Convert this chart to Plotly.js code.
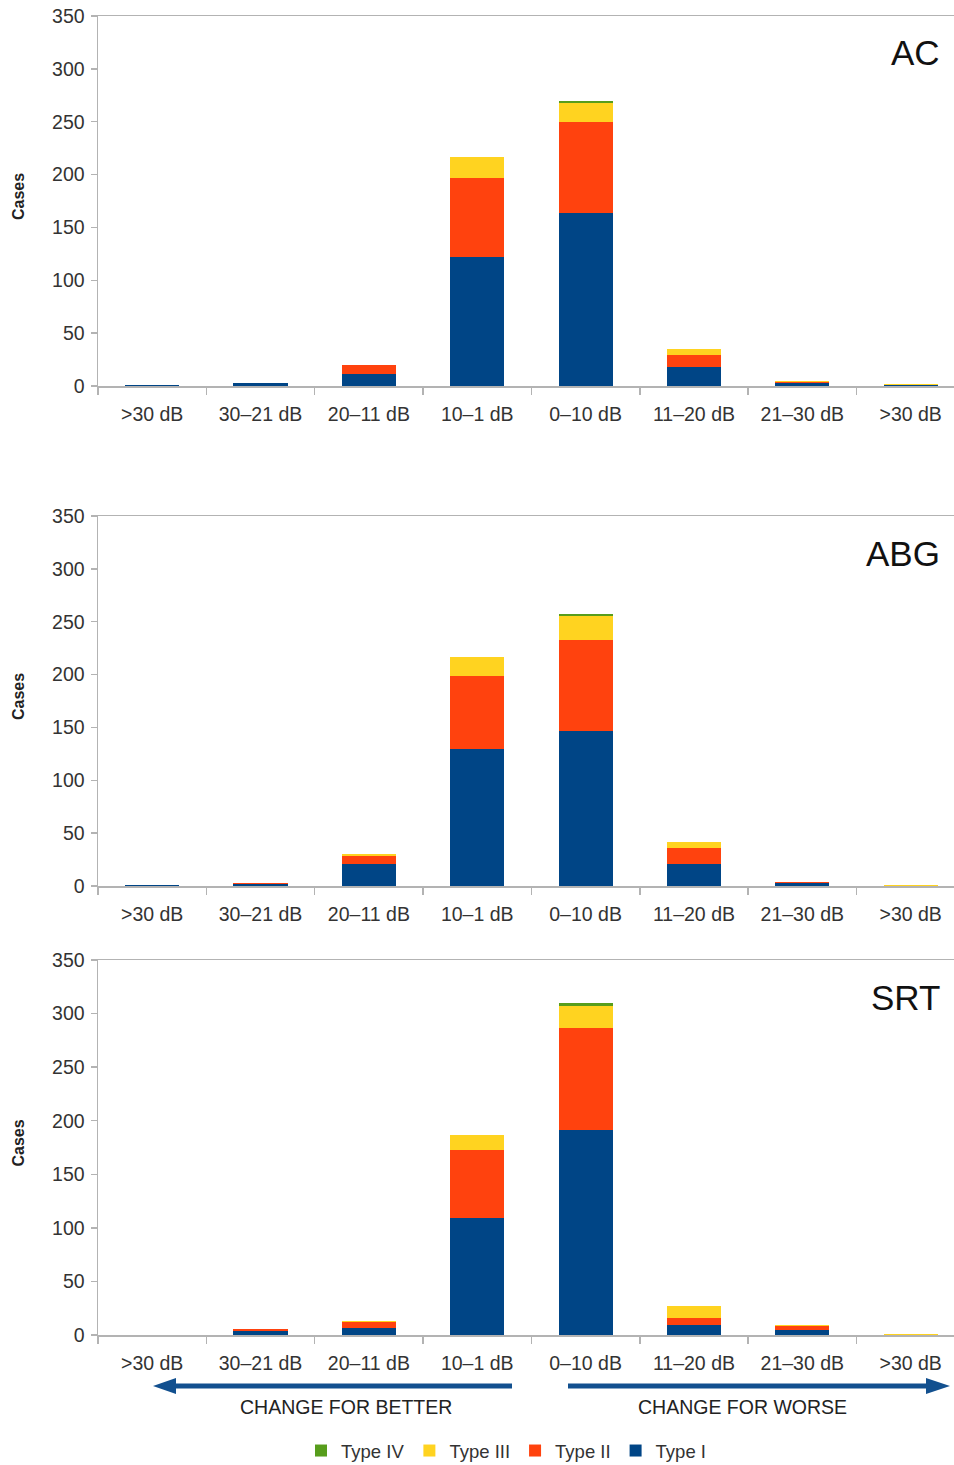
<!DOCTYPE html>
<html>
<head>
<meta charset="utf-8">
<script src="https://cdn.plot.ly/plotly-3.0.1.min.js"></script>
<style>html,body{margin:0;padding:0;background:#fff}#chart{width:954px;height:1465px}</style>
</head>
<body>
<div id="chart"></div>
<script>
// ---- data ----
const categories = ['>30 dB', '30–21 dB', '20–11 dB', '10–1 dB', '0–10 dB', '11–20 dB', '21–30 dB', '>30 dB'];
const seriesNames = ['Type I', 'Type II', 'Type III', 'Type IV'];
const panelNames = ['AC', 'ABG', 'SRT'];

const acTypeI   = [1, 3, 11, 122, 164, 18, 3, 1];
const acTypeII  = [0, 0, 9, 75, 86, 11, 1, 0];
const acTypeIII = [0, 0, 0, 20, 18, 6, 1, 1];
const acTypeIV  = [0, 0, 0, 0, 2, 0, 0, 0];

const abgTypeI   = [1, 2, 21, 130, 147, 21, 3, 0];
const abgTypeII  = [0, 1, 7, 69, 86, 15, 1, 0];
const abgTypeIII = [0, 0, 2, 18, 22, 6, 0, 1];
const abgTypeIV  = [0, 0, 0, 0, 2, 0, 0, 0];

const srtTypeI   = [0, 4, 7, 109, 191, 9, 5, 0];
const srtTypeII  = [0, 2, 5, 64, 96, 7, 3, 0];
const srtTypeIII = [0, 0, 1, 14, 20, 11, 1, 1];
const srtTypeIV  = [0, 0, 0, 0, 3, 0, 0, 0];

const yTickVals = [0, 50, 100, 150, 200, 250, 300, 350];

// ---- styling ----
const colors = ['#004586', '#ff420e', '#ffd320', '#579d1c'];
const W = 954, H = 1465, L = 98, R = 0;
const px2x = p => (p - L) / (W - L - R);
const py2y = p => (H - p) / H;
const FONT = 'Liberation Sans, Arial, sans-serif';
const axisGrey = '#b3b3b3';
const textGrey = '#333333';

const panelData = [
  [acTypeI, acTypeII, acTypeIII, acTypeIV],
  [abgTypeI, abgTypeII, abgTypeIII, abgTypeIV],
  [srtTypeI, srtTypeII, srtTypeIII, srtTypeIV]
];
// pixel extents of each plot area (top, bottom)
const panelPx = [[16, 386], [516, 886], [960, 1335]];

const xIdx = categories.map((c, i) => i);
const traces = [];
panelData.forEach((series, p) => {
  series.forEach((vals, s) => {
    traces.push({
      type: 'bar',
      name: seriesNames[s],
      x: xIdx,
      y: vals,
      xaxis: p === 0 ? 'x' : 'x' + (p + 1),
      yaxis: p === 0 ? 'y' : 'y' + (p + 1),
      marker: {color: colors[s], line: {width: 0}},
      legendgroup: seriesNames[s],
      showlegend: p === 0,
      hoverinfo: 'y+name'
    });
  });
});

const layout = {
  width: W, height: H,
  margin: {l: L, r: R, t: 0, b: 0, autoexpand: false},
  paper_bgcolor: '#fff', plot_bgcolor: '#fff',
  barmode: 'stack',
  bargap: 0.5,
  font: {family: FONT, size: 19, color: textGrey},
  showlegend: true,
  legend: {
    orientation: 'h', traceorder: 'reversed',
    x: px2x(506), xanchor: 'center', y: py2y(1451), yanchor: 'middle',
    font: {family: FONT, size: 18.5, color: textGrey},
    itemwidth: 30, itemsizing: 'constant'
  },
  annotations: [],
  shapes: []
};

panelPx.forEach((pp, p) => {
  const sfx = p === 0 ? '' : String(p + 1);
  layout['xaxis' + sfx] = {
    domain: [0, 1],
    anchor: 'y' + sfx,
    range: [-0.5, 7.4],
    tickmode: 'array', tickvals: xIdx, ticktext: categories,
    ticks: '', showgrid: false, zeroline: false,
    showline: true, mirror: true, linecolor: axisGrey, linewidth: 1.5,
    tickfont: {family: FONT, size: 19.5, color: textGrey},
    ticklabelstandoff: 10,
    minor: {ticks: 'outside', tickmode: 'linear', tick0: -0.5, dtick: 1, ticklen: 7, tickcolor: axisGrey, tickwidth: 1.5, showgrid: false},
    fixedrange: true
  };
  layout['yaxis' + sfx] = {
    domain: [py2y(pp[1]), py2y(pp[0])],
    anchor: 'x' + sfx,
    range: [0, 350],
    tickmode: 'array', tickvals: yTickVals,
    ticks: 'outside', ticklen: 6, tickcolor: axisGrey, tickwidth: 1.5,
    showgrid: false, zeroline: false,
    showline: true, linecolor: axisGrey, linewidth: 1.5,
    tickfont: {family: FONT, size: 19.5, color: textGrey},
    ticklabelstandoff: 2,
    fixedrange: true
  };
  // y-axis title
  layout.annotations.push({
    xref: 'paper', yref: 'paper',
    x: px2x(18), y: py2y((pp[0] + pp[1]) / 2 - 4),
    xanchor: 'center', yanchor: 'middle',
    text: '<b>Cases</b>', textangle: -90, showarrow: false,
    font: {family: FONT, size: 16, color: '#222'}
  });
  // panel label
  layout.annotations.push({
    xref: 'paper', yref: 'paper',
    x: px2x(942), y: py2y(pp[0] + 37),
    xanchor: 'right', yanchor: 'middle',
    text: panelNames[p], showarrow: false,
    font: {family: FONT, size: 35, color: '#111'}
  });
});

// direction arrows under the bottom panel
const arrowColor = '#12508f';
const ay = 1386;
layout.shapes.push(
  {type: 'line', xref: 'paper', yref: 'paper', x0: px2x(512), x1: px2x(172), y0: py2y(ay), y1: py2y(ay), line: {color: arrowColor, width: 5}},
  {type: 'path', xref: 'paper', yref: 'paper', fillcolor: arrowColor, line: {width: 0},
   path: `M${px2x(153)},${py2y(ay)} L${px2x(176)},${py2y(ay - 8)} L${px2x(176)},${py2y(ay + 8)} Z`},
  {type: 'line', xref: 'paper', yref: 'paper', x0: px2x(568), x1: px2x(928), y0: py2y(ay), y1: py2y(ay), line: {color: arrowColor, width: 5}},
  {type: 'path', xref: 'paper', yref: 'paper', fillcolor: arrowColor, line: {width: 0},
   path: `M${px2x(950)},${py2y(ay)} L${px2x(926)},${py2y(ay - 8)} L${px2x(926)},${py2y(ay + 8)} Z`}
);
layout.annotations.push(
  {xref: 'paper', yref: 'paper', x: px2x(346), y: py2y(1407), xanchor: 'center', yanchor: 'middle',
   text: 'CHANGE FOR BETTER', showarrow: false, font: {family: FONT, size: 19.5, color: '#222'}},
  {xref: 'paper', yref: 'paper', x: px2x(742), y: py2y(1407), xanchor: 'center', yanchor: 'middle',
   text: 'CHANGE FOR WORSE', showarrow: false, font: {family: FONT, size: 19.5, color: '#222'}}
);

Plotly.newPlot('chart', traces, layout, {displayModeBar: false, staticPlot: true});
</script>
</body>
</html>
